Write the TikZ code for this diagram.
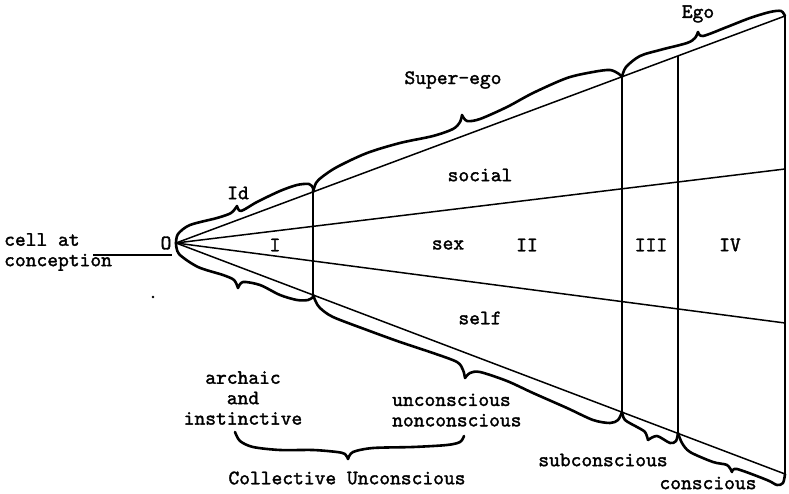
\documentclass[tikz,border=0pt]{standalone}
\usepackage{fontspec}
% typewriter face, slightly heavier than the plain mono
\newfontfamily\typew{lmmono10-regular}[Extension=.otf, FakeBold=1.6]
\begin{document}
\begin{tikzpicture}[x=1bp,y=-1bp,
  ray/.style={line width=1.5bp},
  curly/.style={line width=2.6bp, line cap=round, line join=round},
  lbl/.style={font=\typew\fontsize{20.6}{20.5}\selectfont, inner sep=0pt},
]
\useasboundingbox (0,0) rectangle (789,494);

% apex and the ends of the four rays
\coordinate (apex) at (176,243);
\coordinate (topR) at (785,16);
\coordinate (socR) at (785,169);
\coordinate (selfR) at (785,323);
\coordinate (botR) at (785,474);

% where the rays meet the dividing lines
\coordinate (top1) at (313,191.9);
\coordinate (bot1) at (313,295.0);
\coordinate (top2) at (622,76.8);
\coordinate (bot2) at (622,412.2);
\coordinate (top3) at (678,55.9);
\coordinate (bot3) at (678,433.4);

% rays
\draw[ray] (apex) -- (topR);
\draw[ray] (apex) -- (socR);
\draw[ray] (apex) -- (selfR);
\draw[ray] (apex) -- (botR);

% dividing lines
\draw[ray] (top1) -- (bot1);
\draw[ray] (top2) -- (bot2);
\draw[ray] (top3) -- (bot3);
\draw[ray] (topR) -- (botR);

% pointer to the origin
\coordinate (cellA) at (93,255);
\coordinate (cellB) at (172,255);
\draw[ray] (cellA) -- (cellB);
\fill (153,297) circle (1.4);

% braces above
\draw[curly] plot[smooth] coordinates {(176,243) (178,234) (190,225) (217,218) (231,213) (237,206)};
\draw[curly] plot[smooth] coordinates {(237,206) (241,211) (257,202) (280,191) (297,185) (309,184) (313,188) (313,192)};
\draw[curly] plot[smooth] coordinates {(313,192) (316,183) (322,177) (337,167) (367,153) (400,143) (433,136) (453,129) (460,122) (462,115)};
\draw[curly] plot[smooth] coordinates {(462,115) (467,121) (480,119) (507,107) (533,93) (567,78) (593,72) (610,70) (619,74) (622,77)};
\draw[curly] plot[smooth] coordinates {(622,77) (626,67) (640,56) (660,50) (687,43) (695,38) (698,32)};
\draw[curly] plot[smooth] coordinates {(698,32) (703,36) (727,27) (750,18) (770,12) (781,11) (785,16)};

% braces below
\draw[curly] plot[smooth] coordinates {(176,243) (179,254) (198,267) (223,275) (234,280) (238,288)};
\draw[curly] plot[smooth] coordinates {(238,288) (243,282) (260,285) (280,295) (297,300) (308,300) (313,297) (313,295)};
\draw[curly] plot[smooth] coordinates {(313,295) (316,302) (320,308) (333,317) (367,330) (400,342) (433,353) (457,362) (463,370) (465,378)};
\draw[curly] plot[smooth] coordinates {(465,378) (470,373) (480,372) (507,381) (533,393) (567,408) (593,420) (610,423) (618,420) (622,412)};
\draw[curly] plot[smooth] coordinates {(622,412) (625,420) (637,427) (645,432) (648,440)};
\draw[curly] plot[smooth] coordinates {(648,440) (657,436) (670,443) (676,441) (678,433)};
\draw[curly] plot[smooth] coordinates {(678,433) (682,443) (690,452) (713,462) (727,465) (732,472)};
\draw[curly] plot[smooth] coordinates {(732,472) (737,469) (767,480) (777,485) (783,483) (785,474)};
\draw[curly] plot[smooth] coordinates {(235,432) (240,441) (253,447) (280,450) (313,450) (337,452) (345,454) (348,459)};
\draw[curly] plot[smooth] coordinates {(348,459) (353,452) (373,448) (413,447) (447,445) (460,442) (464,436)};

% labels
\node[lbl, anchor=west, align=left] (cell) at (4,252) {cell at\\conception};
\node[lbl] (o) at (166,243) {O};
\node[lbl] (id) at (238,193) {Id};
\node[lbl] (one) at (275,245) {I};
\node[lbl] (superego) at (453,80) {Super-ego};
\node[lbl] (ego) at (698,14) {Ego};
\node[lbl] (social) at (480,175) {social};
\node[lbl] (sex) at (448,245) {sex};
\node[lbl] (two) at (527,245) {II};
\node[lbl] (three) at (651,245) {III};
\node[lbl] (four) at (730,245) {IV};
\node[lbl] (self) at (480,318) {self};
\node[lbl, align=center] (archaic) at (243,398) {archaic\\and\\instinctive};
\node[lbl, anchor=west, align=left] (uncon) at (392,410) {unconscious\\nonconscious};
\node[lbl] (collective) at (347,478) {Collective Unconscious};
\node[lbl] (subcon) at (603,460) {subconscious};
\node[lbl] (con) at (708,483) {conscious};
\end{tikzpicture}
\end{document}
